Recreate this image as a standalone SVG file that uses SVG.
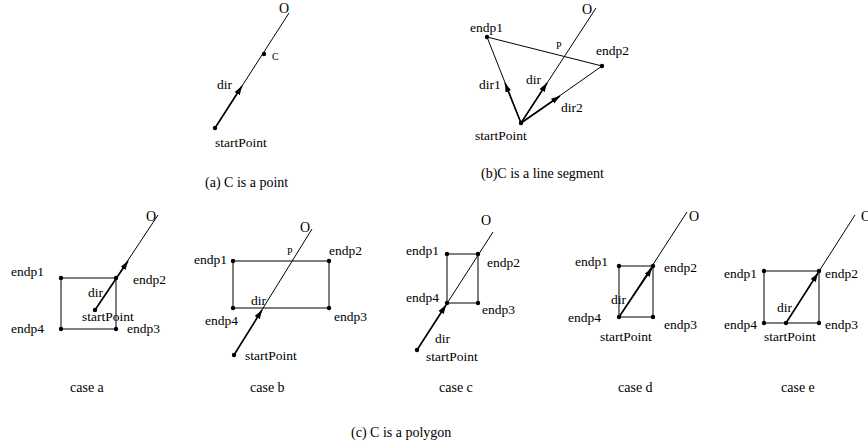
<svg xmlns="http://www.w3.org/2000/svg" width="868" height="445" viewBox="0 0 868 445" font-family="'Liberation Serif', 'Times New Roman', 'DejaVu Serif', serif">
<style>
text{font-family:'Liberation Serif','Times New Roman','DejaVu Serif',serif;font-size:13.5px;fill:#000}
.sm{font-size:10px}
.o{font-size:14px}
.cap{font-size:14px}
.ln{stroke:#000;stroke-width:1;fill:none}
.vec{stroke:#000;stroke-width:1.6;fill:none;marker-end:url(#ah)}
.dot{fill:#000}
</style>
<defs>
<marker id="ah" markerUnits="userSpaceOnUse" markerWidth="10" markerHeight="7" refX="9" refY="3" orient="auto">
<path d="M0,0 L9,3 L0,6 z" fill="#000"/>
</marker>
</defs>
<rect width="868" height="445" fill="#fff"/>

<g id="connectors">
<line class="ln" x1="215" y1="128" x2="289" y2="13"/>
<line class="vec" x1="215" y1="128" x2="242" y2="86"/>
<line class="ln" x1="487" y1="37" x2="602" y2="66"/>
<line class="ln" x1="521" y1="123" x2="487" y2="37"/>
<line class="ln" x1="521" y1="123" x2="602" y2="66"/>
<line class="ln" x1="521" y1="123" x2="596" y2="8"/>
<line class="vec" x1="521" y1="123" x2="505" y2="83"/>
<line class="vec" x1="521" y1="123" x2="547" y2="83"/>
<line class="vec" x1="521" y1="123" x2="560" y2="96"/>
<rect class="ln" x="61" y="278" width="55" height="51"/>
<line class="ln" x1="95" y1="310" x2="158" y2="215"/>
<line class="vec" x1="95" y1="310" x2="128" y2="261"/>
<rect class="ln" x="233" y="261" width="96" height="47"/>
<line class="ln" x1="234" y1="355" x2="312" y2="229"/>
<line class="vec" x1="234" y1="355" x2="262" y2="310"/>
<rect class="ln" x="447" y="254" width="31" height="49"/>
<line class="ln" x1="417" y1="350" x2="493" y2="232"/>
<line class="vec" x1="417" y1="350" x2="446" y2="305"/>
<rect class="ln" x="619" y="266" width="34" height="51"/>
<line class="ln" x1="619" y1="317" x2="687" y2="212"/>
<line class="vec" x1="619" y1="317" x2="652" y2="268"/>
<rect class="ln" x="764" y="271" width="55" height="52"/>
<line class="ln" x1="786" y1="323" x2="855" y2="215"/>
<line class="vec" x1="786" y1="323" x2="818" y2="273"/>
</g>

<g id="panel-a">
<circle class="dot" cx="215" cy="128" r="2.2"/>
<circle class="dot" cx="264" cy="54" r="2.2"/>
<text class="o" x="279" y="13">O</text>
<text class="sm" x="272" y="60">C</text>
<text x="217" y="89">dir</text>
<text x="215" y="147">startPoint</text>
<text class="cap" x="205" y="187">(a) C is a point</text>
</g>

<g id="panel-b">
<circle class="dot" cx="521" cy="123" r="2.2"/>
<circle class="dot" cx="487" cy="37" r="2.2"/>
<circle class="dot" cx="602" cy="66" r="2.2"/>
<text class="o" x="582" y="14">O</text>
<text x="470" y="32">endp1</text>
<text class="sm" x="556" y="49">P</text>
<text x="596" y="55">endp2</text>
<text x="526" y="84">dir</text>
<text x="479" y="89">dir1</text>
<text x="561" y="112">dir2</text>
<text x="475" y="140">startPoint</text>
<text class="cap" x="481" y="178">(b)C is a line segment</text>
</g>

<g id="case-a">
<circle class="dot" cx="61" cy="278" r="2.2"/>
<circle class="dot" cx="116" cy="278" r="2.2"/>
<circle class="dot" cx="61" cy="329" r="2.2"/>
<circle class="dot" cx="116" cy="329" r="2.2"/>
<circle class="dot" cx="95" cy="310" r="2.2"/>
<text class="o" x="146" y="221">O</text>
<text x="11" y="276">endp1</text>
<text x="133" y="284">endp2</text>
<text x="11" y="333">endp4</text>
<text x="127" y="333">endp3</text>
<text x="88" y="297">dir</text>
<text x="82" y="321">startPoint</text>
<text class="cap" x="70" y="392">case a</text>
</g>

<g id="case-b">
<circle class="dot" cx="233" cy="261" r="2.2"/>
<circle class="dot" cx="329" cy="261" r="2.2"/>
<circle class="dot" cx="233" cy="308" r="2.2"/>
<circle class="dot" cx="329" cy="308" r="2.2"/>
<circle class="dot" cx="234" cy="355" r="2.2"/>
<text class="o" x="300" y="232">O</text>
<text class="sm" x="287" y="255">P</text>
<text x="194" y="264">endp1</text>
<text x="329" y="255">endp2</text>
<text x="205" y="325">endp4</text>
<text x="334" y="321">endp3</text>
<text x="251" y="305">dir</text>
<text x="245" y="360">startPoint</text>
<text class="cap" x="250" y="392">case b</text>
</g>

<g id="case-c">
<circle class="dot" cx="447" cy="254" r="2.2"/>
<circle class="dot" cx="478" cy="254" r="2.2"/>
<circle class="dot" cx="447" cy="303" r="2.2"/>
<circle class="dot" cx="478" cy="303" r="2.2"/>
<circle class="dot" cx="417" cy="350" r="2.2"/>
<text class="o" x="481" y="225">O</text>
<text x="406" y="255">endp1</text>
<text x="487" y="267">endp2</text>
<text x="406" y="302">endp4</text>
<text x="482" y="314">endp3</text>
<text x="435" y="343">dir</text>
<text x="426" y="361">startPoint</text>
<text class="cap" x="439" y="392">case c</text>
</g>

<g id="case-d">
<circle class="dot" cx="619" cy="266" r="2.2"/>
<circle class="dot" cx="653" cy="266" r="2.2"/>
<circle class="dot" cx="619" cy="317" r="2.2"/>
<circle class="dot" cx="653" cy="317" r="2.2"/>
<text class="o" x="689" y="221">O</text>
<text x="575" y="266">endp1</text>
<text x="664" y="272">endp2</text>
<text x="568" y="322">endp4</text>
<text x="664" y="329">endp3</text>
<text x="611" y="304">dir</text>
<text x="600" y="341">startPoint</text>
<text class="cap" x="618" y="392">case d</text>
</g>

<g id="case-e">
<circle class="dot" cx="764" cy="271" r="2.2"/>
<circle class="dot" cx="819" cy="271" r="2.2"/>
<circle class="dot" cx="764" cy="323" r="2.2"/>
<circle class="dot" cx="819" cy="323" r="2.2"/>
<circle class="dot" cx="786" cy="323" r="2.2"/>
<text class="o" x="861" y="221">O</text>
<text x="724" y="278">endp1</text>
<text x="825" y="278">endp2</text>
<text x="724" y="329">endp4</text>
<text x="825" y="329">endp3</text>
<text x="777" y="312">dir</text>
<text x="764" y="341">startPoint</text>
<text class="cap" x="781" y="392">case e</text>
</g>

<g id="caption">
<text class="cap" x="351" y="437">(c) C is a polygon</text>
</g>
</svg>
